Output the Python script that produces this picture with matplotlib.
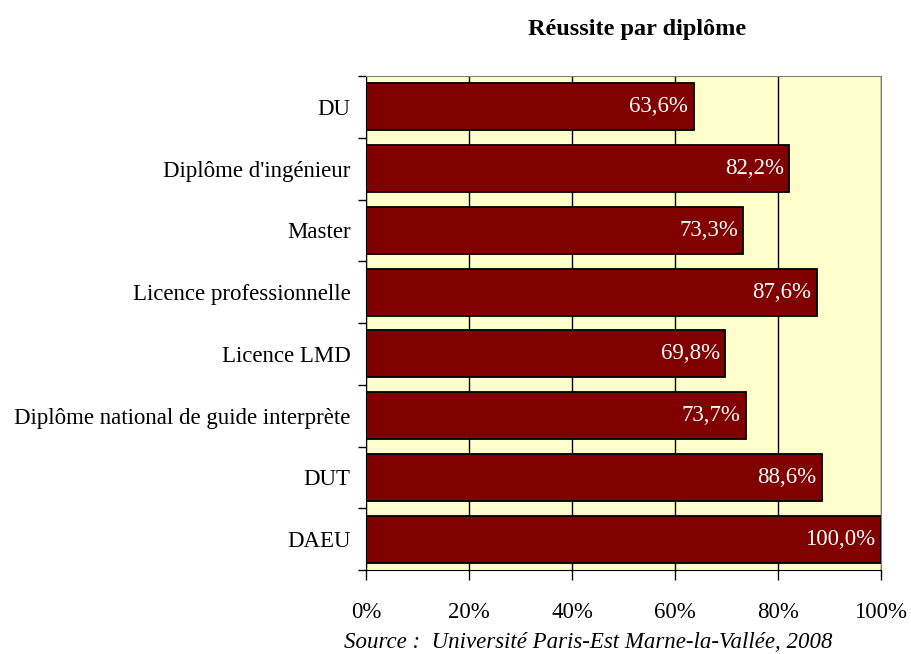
import matplotlib.pyplot as plt
import numpy as np

categories = ["DU", "Diplôme d'ingénieur", "Master", "Licence professionnelle",
              "Licence LMD", "Diplôme national de guide interprète", "DUT", "DAEU"]
values = [63.6, 82.2, 73.3, 87.6, 69.8, 73.7, 88.6, 100.0]
xticks = [0, 20, 40, 60, 80, 100]

plt.rcParams['font.family'] = ['Liberation Serif', 'DejaVu Serif']

fig = plt.figure(figsize=(9.11, 6.54), dpi=100)
ax = fig.add_axes([366/911, 1-570/654, (881-366)/911, (570-76)/654])
ax.set_facecolor('#FFFFCC')

y = np.arange(len(categories))
ax.barh(y, values, height=0.76, color='#800000', edgecolor='black', linewidth=1.3, zorder=3)

for yi, v in zip(y, values):
    ax.annotate(f"{v:.1f}%".replace('.', ','), xy=(v, yi), xytext=(-4, 0),
                textcoords='offset points', color='white', fontsize=16.5,
                ha='right', va='center', zorder=4, annotation_clip=False)

ax.set_xlim(0, 100)
ax.set_ylim(len(categories) - 0.5, -0.5)
ax.set_xticks(xticks)
ax.set_xticklabels([f"{t}%" for t in xticks], fontsize=16.5)
ax.tick_params(axis='x', direction='out', length=7, width=1, pad=16)
ax.xaxis.grid(True, color='black', linewidth=1, zorder=1)

ax.set_yticks(y)
ax.set_yticklabels(categories, fontsize=16.5)
ax.tick_params(axis='y', length=0, pad=11)
ax.set_yticks(np.arange(-0.5, len(categories)), minor=True)
ax.tick_params(axis='y', which='minor', direction='out', length=6, width=1)

for s in ['top', 'right']:
    ax.spines[s].set_color('#808080')
for s in ['left', 'bottom']:
    ax.spines[s].set_color('black')

fig.text(637/911, 1-30/654, "Réussite par diplôme", fontsize=17.5, fontweight='bold',
         ha='center', va='center')
fig.text(588/911, 1-643/654, "Source :  Université Paris-Est Marne-la-Vallée, 2008",
         fontsize=16.5, style='italic', ha='center', va='center')

fig.savefig('out.png', dpi=100)
